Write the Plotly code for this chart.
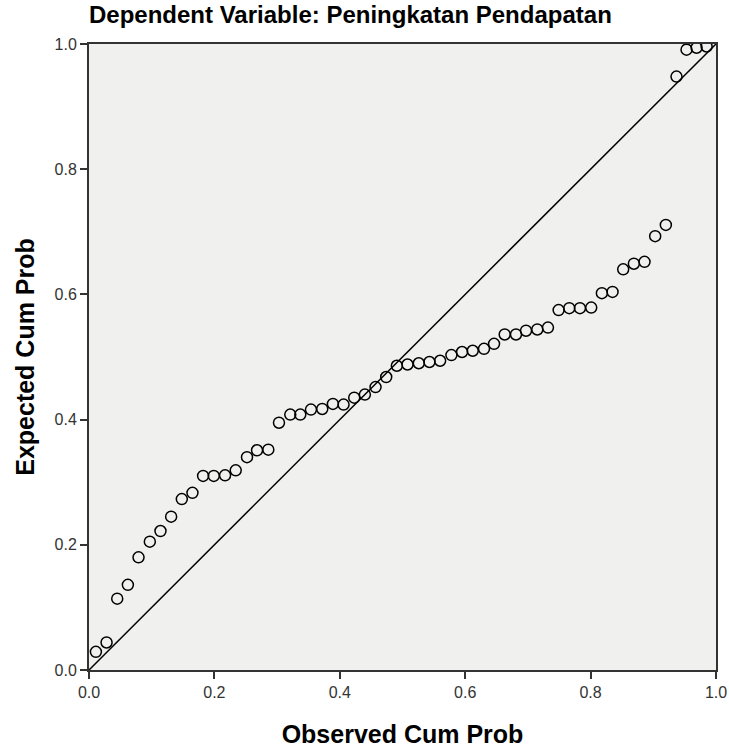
import plotly.graph_objects as go

observed = [0.011, 0.028, 0.045, 0.062, 0.079, 0.097, 0.114, 0.131, 0.148, 0.165,
            0.182, 0.199, 0.217, 0.234, 0.252, 0.268, 0.286, 0.303, 0.321, 0.337,
            0.354, 0.372, 0.389, 0.406, 0.423, 0.440, 0.457, 0.474, 0.491, 0.508,
            0.526, 0.543, 0.560, 0.578, 0.595, 0.612, 0.630, 0.646, 0.663, 0.681,
            0.697, 0.715, 0.732, 0.749, 0.766, 0.783, 0.801, 0.818, 0.835, 0.852,
            0.869, 0.886, 0.903, 0.920, 0.937, 0.953, 0.969, 0.985]
expected = [0.029, 0.044, 0.114, 0.136, 0.180, 0.205, 0.222, 0.245, 0.273, 0.283,
            0.310, 0.310, 0.311, 0.319, 0.340, 0.351, 0.352, 0.395, 0.408, 0.408,
            0.416, 0.417, 0.425, 0.424, 0.435, 0.440, 0.452, 0.468, 0.486, 0.488,
            0.490, 0.492, 0.494, 0.503, 0.508, 0.510, 0.513, 0.521, 0.536, 0.536,
            0.542, 0.544, 0.547, 0.575, 0.578, 0.578, 0.579, 0.602, 0.604, 0.640,
            0.649, 0.652, 0.693, 0.711, 0.948, 0.991, 0.994, 0.996]
diag = [0.0, 1.0]
ticks = [0.0, 0.2, 0.4, 0.6, 0.8, 1.0]
tick_labels = ["0.0", "0.2", "0.4", "0.6", "0.8", "1.0"]

FONT = "Liberation Sans, Arial"

fig = go.Figure()
fig.add_trace(go.Scatter(x=diag, y=diag, mode="lines",
                         line=dict(color="black", width=1.5),
                         showlegend=False, hoverinfo="skip"))
fig.add_trace(go.Scatter(x=observed, y=expected, mode="markers",
                         marker=dict(symbol="circle-open", size=11,
                                     color="black", line=dict(width=1.5)),
                         showlegend=False))

axis_common = dict(range=[0, 1], tickvals=ticks, ticktext=tick_labels,
                   showgrid=False, zeroline=False, showline=True,
                   linecolor="#333333", linewidth=2, mirror=True,
                   ticks="outside", ticklen=7, tickwidth=1.5, tickcolor="#333333",
                   automargin=False,
                   tickfont=dict(family=FONT, size=16, color="#333333"))

fig.update_layout(
    width=729, height=749,
    margin=dict(l=89, r=13, t=44, b=79, autoexpand=False),
    paper_bgcolor="white",
    plot_bgcolor="#f0f0ee",
    title=dict(text="<b>Dependent Variable: Peningkatan Pendapatan</b>",
               x=0, xref="paper", xanchor="left",
               y=0.981, yref="container", yanchor="middle",
               font=dict(family=FONT, size=24, color="black")),
    xaxis=dict(**axis_common,
               title=dict(text="<b>Observed Cum Prob</b>", standoff=25,
                          font=dict(family=FONT, size=25, color="black"))),
    yaxis=dict(**axis_common,
               title=dict(text="<b>Expected Cum Prob</b>", standoff=13,
                          font=dict(family=FONT, size=25, color="black"))),
)

fig.write_html("out.html", config={"displayModeBar": False},
               post_script="document.body.style.margin='0';document.body.style.overflow='hidden';")
